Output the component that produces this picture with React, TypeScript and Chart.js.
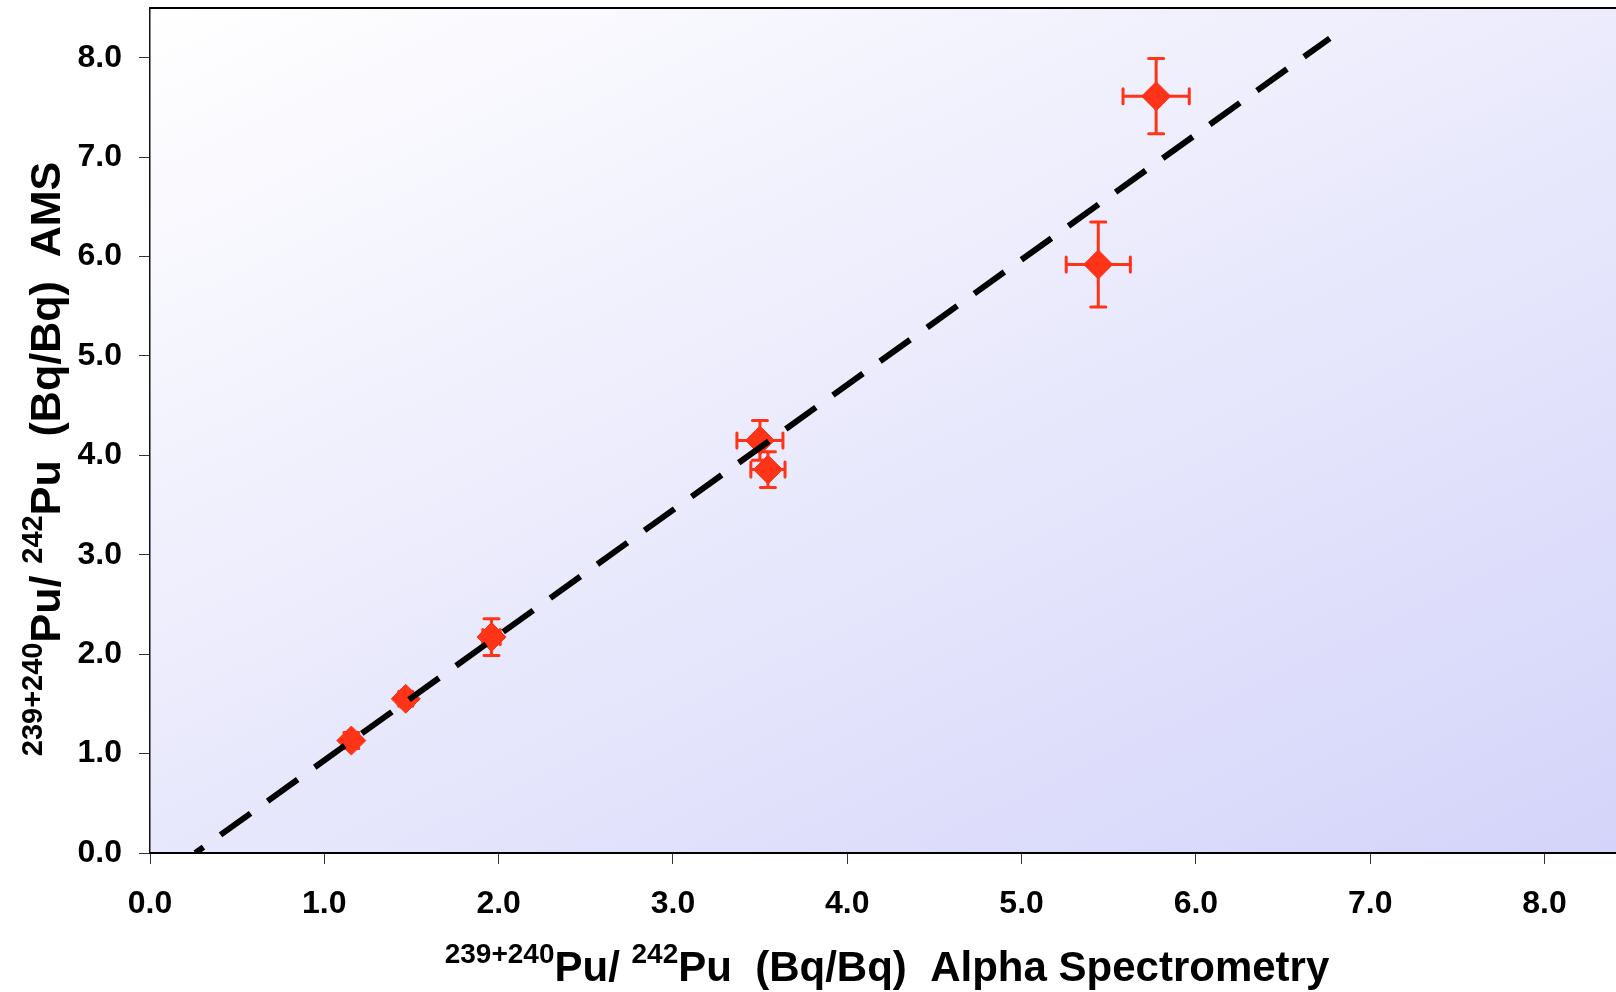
import React, { useEffect, useRef } from "react";
import { Chart, registerables } from "chart.js";

Chart.register(...registerables);

// ---- data ----
const pointX = [1.155, 1.467, 1.959, 3.499, 3.545, 5.44, 5.772];
const pointY = [1.131, 1.551, 2.172, 4.15, 3.857, 5.92, 7.613];
const errX = [0.04, 0.04, 0.05, 0.132, 0.098, 0.184, 0.19];
const errY = [0.08, 0.06, 0.185, 0.2, 0.18, 0.428, 0.378];
const trendX = [0.26, 6.768];
const trendY = [0, 8.195];
const xTickValues = [0, 1, 2, 3, 4, 5, 6, 7, 8];
const yTickValues = [0, 1, 2, 3, 4, 5, 6, 7, 8];
const xTitleParts: [string, boolean][] = [
  ["239+240", true],
  ["Pu/ ", false],
  ["242", true],
  ["Pu  (Bq/Bq)  Alpha Spectrometry", false],
];
const yTitleParts: [string, boolean][] = [
  ["239+240", true],
  ["Pu/ ", false],
  ["242", true],
  ["Pu  (Bq/Bq)  AMS", false],
];

const RED = "#ff3317";
const FONT = '"Liberation Sans", Arial, Helvetica, sans-serif';

function drawParts(
  ctx: CanvasRenderingContext2D,
  parts: [string, boolean][],
  cx: number,
  baseline: number,
  mainSize: number,
  supSize: number
) {
  const main = `bold ${mainSize}px ${FONT}`;
  const sup = `bold ${supSize}px ${FONT}`;
  let total = 0;
  const widths: number[] = [];
  for (const [t, s] of parts) {
    ctx.font = s ? sup : main;
    const w = ctx.measureText(t).width;
    widths.push(w);
    total += w;
  }
  let x = cx - total / 2;
  ctx.fillStyle = "#000";
  ctx.textAlign = "left";
  ctx.textBaseline = "alphabetic";
  parts.forEach(([t, s], i) => {
    ctx.font = s ? sup : main;
    ctx.fillText(t, x, s ? baseline - 18 : baseline);
    x += widths[i];
  });
}

const decorPlugin = {
  id: "decor",
  beforeDraw(chart: any) {
    const { ctx, chartArea: a } = chart;
    ctx.save();
    const g = ctx.createLinearGradient(a.left, a.top, a.left + 600, a.top + 1258);
    g.addColorStop(0, "rgb(255,255,255)");
    g.addColorStop(1, "rgb(212,212,250)");
    ctx.fillStyle = g;
    ctx.fillRect(a.left, a.top, a.right - a.left, a.bottom - a.top);
    ctx.restore();
  },
  beforeDatasetsDraw(chart: any) {
    const { ctx } = chart;
    const xs = chart.scales.x;
    const ys = chart.scales.y;
    ctx.save();
    ctx.strokeStyle = RED;
    ctx.lineWidth = 3;
    ctx.lineCap = "round";
    const cap = 7.5;
    pointX.forEach((xv, i) => {
      const yv = pointY[i];
      const px = xs.getPixelForValue(xv);
      const py = ys.getPixelForValue(yv);
      const x1 = xs.getPixelForValue(xv - errX[i]);
      const x2 = xs.getPixelForValue(xv + errX[i]);
      const y1 = ys.getPixelForValue(yv - errY[i]);
      const y2 = ys.getPixelForValue(yv + errY[i]);
      ctx.beginPath();
      ctx.moveTo(x1, py);
      ctx.lineTo(x2, py);
      ctx.moveTo(x1, py - cap);
      ctx.lineTo(x1, py + cap);
      ctx.moveTo(x2, py - cap);
      ctx.lineTo(x2, py + cap);
      ctx.moveTo(px, y1);
      ctx.lineTo(px, y2);
      ctx.moveTo(px - cap, y1);
      ctx.lineTo(px + cap, y1);
      ctx.moveTo(px - cap, y2);
      ctx.lineTo(px + cap, y2);
      ctx.stroke();
    });
    ctx.restore();
  },
  afterDraw(chart: any) {
    const { ctx, chartArea: a } = chart;
    ctx.save();
    ctx.strokeStyle = "#000";
    ctx.lineWidth = 2;
    ctx.beginPath();
    ctx.moveTo(a.left, a.top);
    ctx.lineTo(a.right, a.top);
    ctx.stroke();
    drawParts(ctx, xTitleParts, 887, 981, 42, 28);
    ctx.save();
    ctx.translate(60, 459);
    ctx.rotate(-Math.PI / 2);
    drawParts(ctx, yTitleParts, 0, 0, 43, 29);
    ctx.restore();
    ctx.restore();
  },
};

function zeroPad(s: any) {
  s.paddingTop = 0;
  s.paddingBottom = 0;
  s.paddingLeft = 0;
  s.paddingRight = 0;
}

export default function App() {
  const ref = useRef<HTMLCanvasElement>(null);
  useEffect(() => {
    if (!ref.current) return;
    const chart = new Chart(ref.current, {
      type: "scatter",
      data: {
        datasets: [
          {
            type: "line",
            data: trendX.map((x, i) => ({ x, y: trendY[i] })),
            borderColor: "#000",
            borderWidth: 6,
            borderDash: [37, 21],
            borderDashOffset: 27,
            borderCapStyle: "butt",
            pointRadius: 0,
            showLine: true,
            fill: false,
          } as any,
          {
            data: pointX.map((x, i) => ({ x, y: pointY[i] })),
            pointStyle: "rectRot",
            pointRadius: 14.5,
            backgroundColor: RED,
            borderColor: RED,
            borderWidth: 1,
            showLine: false,
          },
        ],
      },
      options: {
        animation: false,
        responsive: false,
        events: [],
        layout: { autoPadding: false, padding: { top: 8, left: 0, right: 0, bottom: 0 } },
        plugins: { legend: { display: false }, tooltip: { enabled: false } },
        scales: {
          x: {
            type: "linear",
            min: 0,
            max: 8.41,
            afterFit: (s: any) => {
              s.height = 139;
              zeroPad(s);
            },
            afterBuildTicks: (s: any) => {
              s.ticks = xTickValues.map((v) => ({ value: v }));
            },
            grid: {
              drawOnChartArea: false,
              drawTicks: true,
              tickLength: 11,
              color: "#333",
              lineWidth: 1,
            },
            border: { display: true, color: "#000", width: 2 },
            ticks: {
              includeBounds: false,
              padding: 21,
              color: "#000",
              font: { family: FONT, size: 32, weight: "bold" },
              callback: (v: any) => Number(v).toFixed(1),
              maxRotation: 0,
            },
          },
          y: {
            type: "linear",
            min: 0,
            max: 8.5,
            afterFit: (s: any) => {
              s.width = 150;
              zeroPad(s);
            },
            afterBuildTicks: (s: any) => {
              s.ticks = yTickValues.map((v) => ({ value: v }));
            },
            grid: {
              drawOnChartArea: false,
              drawTicks: true,
              tickLength: 11,
              color: "#333",
              lineWidth: 1,
            },
            border: { display: true, color: "#111", width: 1.5 },
            ticks: {
              includeBounds: false,
              padding: 17,
              color: "#000",
              font: { family: FONT, size: 32, weight: "bold" },
              callback: (v: any) => Number(v).toFixed(1),
            },
          },
        },
      } as any,
      plugins: [decorPlugin],
    });
    return () => chart.destroy();
  }, []);
  return (
    <div style={{ position: "fixed", left: 0, top: 0, width: 1616, height: 992, background: "#fff" }}>
      <canvas ref={ref} width={1616} height={992} style={{ display: "block" }} />
    </div>
  );
}
